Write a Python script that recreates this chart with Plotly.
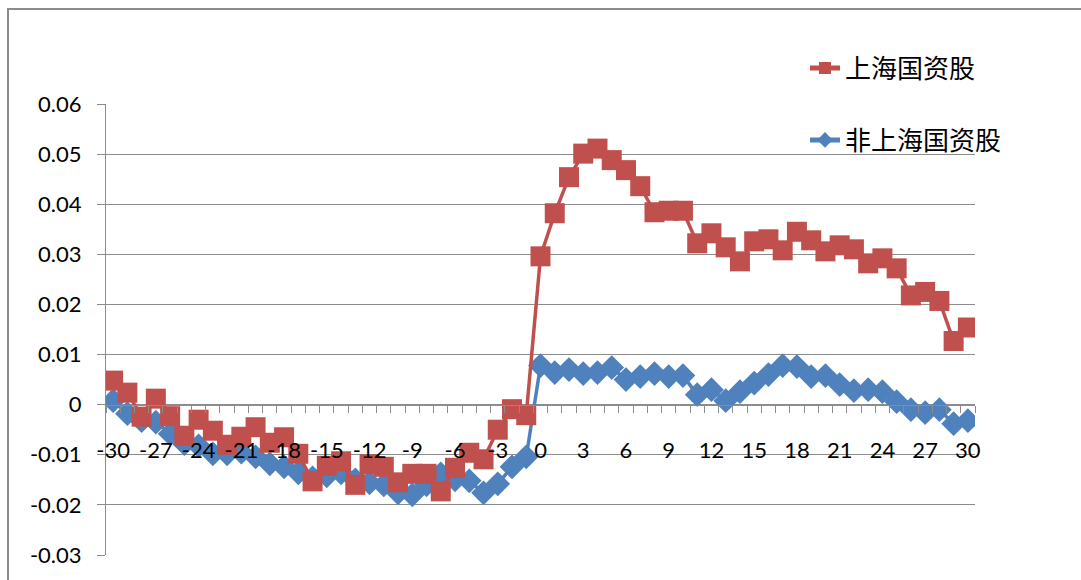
import plotly.graph_objects as go

# Event window (trading days relative to the announcement day)
days = list(range(-30, 31))

# Cumulative abnormal returns, Shanghai state-owned stocks
sh_soe = [0.0048, 0.0024, -0.0024, 0.0012, -0.0023, -0.0062, -0.0030, -0.0052, -0.0080, -0.0064,
          -0.0045, -0.0076, -0.0065, -0.0098, -0.0153, -0.0122, -0.0113, -0.0160, -0.0119, -0.0124,
          -0.0155, -0.0138, -0.0138, -0.0173, -0.0126, -0.0096, -0.0109, -0.0050, -0.0009, -0.0021,
          0.0296, 0.0382, 0.0454, 0.0501, 0.0511, 0.0488, 0.0468, 0.0436, 0.0384, 0.0387, 0.0387,
          0.0322, 0.0342, 0.0314, 0.0286, 0.0326, 0.0330, 0.0308, 0.0345, 0.0328, 0.0306,
          0.0318, 0.0310, 0.0282, 0.0292, 0.0272, 0.0218, 0.0225, 0.0207, 0.0127, 0.0154]

# Cumulative abnormal returns, non-Shanghai state-owned stocks
non_sh_soe = [0.0008, -0.0018, -0.0032, -0.0035, -0.0058, -0.0078, -0.0082, -0.0098, -0.0098, -0.0095,
              -0.0104, -0.0118, -0.0124, -0.0136, -0.0146, -0.0142, -0.0136, -0.0150, -0.0156, -0.0160,
              -0.0176, -0.0180, -0.0160, -0.0138, -0.0150, -0.0152, -0.0176, -0.0158, -0.0124, -0.0104,
              0.0078, 0.0064, 0.0070, 0.0062, 0.0064, 0.0074, 0.0050, 0.0056, 0.0062, 0.0056, 0.0058,
              0.0020, 0.0030, 0.0008, 0.0026, 0.0043, 0.0060, 0.0078, 0.0076, 0.0056, 0.0058,
              0.0040, 0.0028, 0.0030, 0.0026, 0.0006, -0.0010, -0.0016, -0.0010, -0.0038, -0.0032]

series_names = ["上海国资股", "非上海国资股"]

y_ticks = [0.06, 0.05, 0.04, 0.03, 0.02, 0.01, 0, -0.01, -0.02, -0.03]
y_ticktext = ["0.06", "0.05", "0.04", "0.03", "0.02", "0.01", "0", "-0.01", "-0.02", "-0.03"]
x_ticks = list(range(-30, 31, 3))
x_ticktext = [str(v) for v in x_ticks]

RED = "#C0504D"
BLUE = "#4F81BD"
GRID = "#8C8C8C"
FONT = "Lato, 'Noto Sans CJK SC', sans-serif"

W, H = 1081, 580
L, R, T, B = 106, 106, 104, 25
plot_w = W - L - R
plot_h = H - T - B
y_min, y_max = -0.03, 0.06
zero_pos = (0 - y_min) / (y_max - y_min)

fig = go.Figure()

fig.add_trace(go.Scatter(
    x=days, y=non_sh_soe, name=series_names[1], mode="lines+markers",
    line=dict(color=BLUE, width=3.5),
    marker=dict(symbol="diamond", size=19, color=BLUE),
    legend="legend2",
))
fig.add_trace(go.Scatter(
    x=days, y=sh_soe, name=series_names[0], mode="lines+markers",
    line=dict(color=RED, width=3.5),
    marker=dict(symbol="square", size=20, color=RED),
    legend="legend",
))

legend_x = (805 - L) / plot_w
legend_font = dict(size=26, family="'Noto Sans CJK SC'", color="black")
fig.update_layout(
    width=W, height=H,
    margin=dict(l=L, r=R, t=T, b=B),
    paper_bgcolor="white", plot_bgcolor="white",
    font=dict(family=FONT, size=22, color="black"),
    showlegend=True,
    legend=dict(x=legend_x, y=(H - B - 68) / plot_h, xanchor="left", yanchor="middle",
                bgcolor="rgba(0,0,0,0)", font=legend_font, itemsizing="constant"),
    legend2=dict(x=legend_x, y=(H - B - 140) / plot_h, xanchor="left", yanchor="middle",
                 bgcolor="rgba(0,0,0,0)", font=legend_font, itemsizing="constant"),
    xaxis=dict(
        range=[-30.5, 30.5], anchor="free", position=zero_pos,
        showgrid=False, zeroline=False,
        showline=True, linecolor=GRID, linewidth=1,
        tickmode="array", tickvals=x_ticks, ticktext=x_ticktext,
        ticks="", ticklabelstandoff=26,
        minor=dict(ticks="outside", tick0=0.5, dtick=1, ticklen=7, tickcolor=GRID, tickwidth=1,
                   showgrid=False),
        tickfont=dict(size=22),
    ),
    yaxis=dict(
        range=[y_min, y_max],
        showgrid=True, gridcolor=GRID, gridwidth=1,
        zeroline=False,
        showline=True, linecolor=GRID, linewidth=1,
        tickmode="array", tickvals=y_ticks, ticktext=y_ticktext,
        ticks="outside", ticklen=8, tickcolor=GRID, tickwidth=1,
        ticklabelstandoff=11,
        tickfont=dict(size=22),
    ),
    shapes=[dict(type="rect", xref="paper", yref="paper",
                 x0=(8 - L) / plot_w, x1=1.3, y0=-0.2, y1=(H - B - 9) / plot_h,
                 line=dict(color=GRID, width=2), fillcolor="rgba(0,0,0,0)", layer="below")],
)

fig.write_html("out.html")
